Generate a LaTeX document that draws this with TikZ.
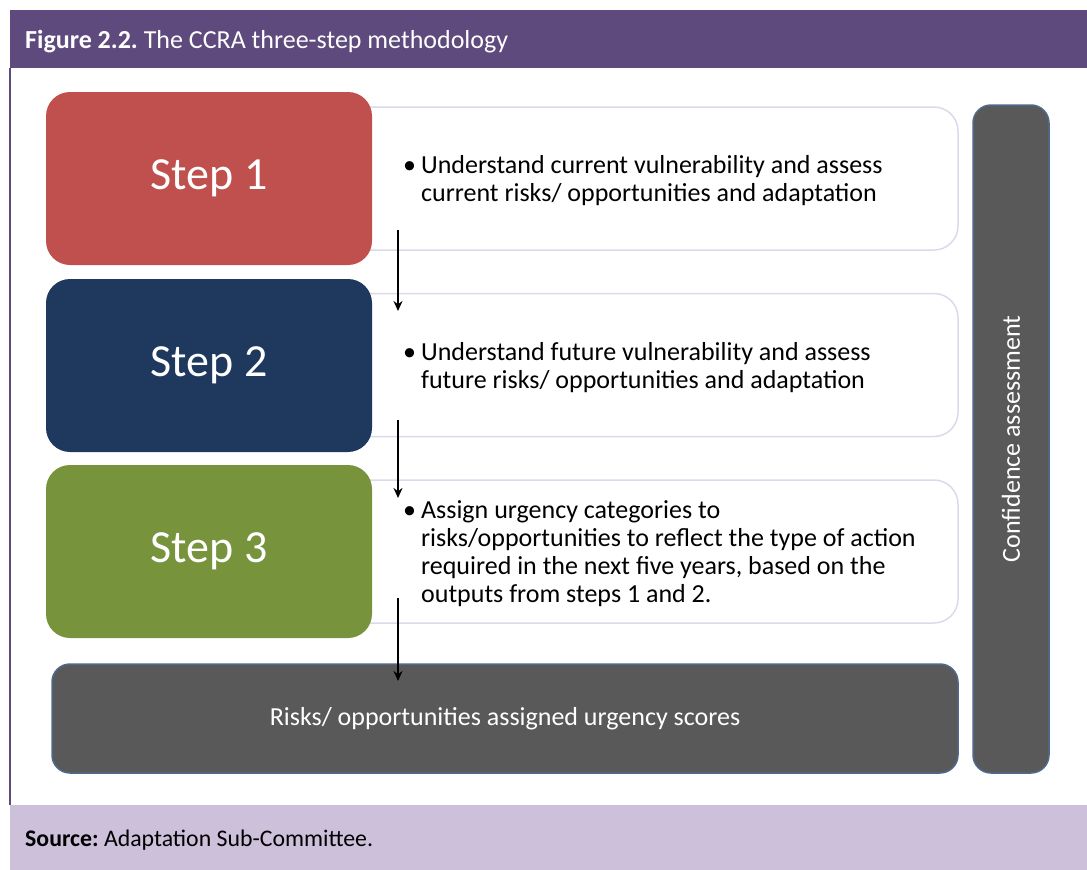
\documentclass[tikz,border=0pt]{standalone}
\usepackage{fontspec}
\setmainfont{Carlito}
\frenchspacing
\usetikzlibrary{positioning,calc,arrows.meta}
\definecolor{bandpurple}{RGB}{94,74,125}
\definecolor{footlilac}{RGB}{205,192,219}
\definecolor{stepred}{RGB}{192,80,77}
\definecolor{stepblue}{RGB}{31,56,94}
\definecolor{stepgreen}{RGB}{119,147,60}
\definecolor{boxgray}{RGB}{89,89,89}
\definecolor{boxedge}{RGB}{79,105,140}
\definecolor{descedge}{RGB}{218,218,235}
\tikzset{
  stepbox/.style={rounded corners=24pt, minimum width=326pt, minimum height=173pt, inner sep=0pt,
    text=white, font=\fontsize{46}{50}\selectfont},
  descbox/.style={draw=descedge, line width=1.5pt, fill=white, rounded corners=24pt,
    minimum width=658pt, minimum height=143pt, inner sep=0pt},
  desctext/.style={anchor=west, inner sep=0pt, font=\fontsize{26}{28}\selectfont},
  graybox/.style={fill=boxgray, draw=boxedge, line width=1.5pt, rounded corners=18pt, inner sep=0pt,
    text=white, font=\fontsize{26}{30}\selectfont},
  flow/.style={-{Stealth[length=10pt,width=9pt]}, line width=1.7pt}
}
\newcommand{\bulletlines}[1]{\begin{tabular}{@{}l@{\hspace{5pt}}l@{}}\textbullet & #1\end{tabular}}
\begin{document}
\begin{tikzpicture}[x=1pt,y=-1pt]
\useasboundingbox (0,0) rectangle (1087,870);
% frame, title band and footer
\fill[bandpurple] (10,10) rectangle (1087,68);
\draw[bandpurple, line width=2pt] (10,68) -- (10,805);
\fill[footlilac] (10,805) rectangle (1087,870);
\node[anchor=base west, inner sep=0pt, text=white, font=\fontsize{26}{28}\selectfont] (title) at (25,48)
  {\textbf{Figure 2.2.} The CCRA three-step methodology};
\node[anchor=base west, inner sep=0pt, font=\fontsize{23.8}{26}\selectfont] (source) at (25,846)
  {\textbf{Source:} Adaptation Sub-Committee.};

% description boxes sit behind the steps
\node[descbox] (desc1) at (629,178.5) {};
\node[descbox] (desc2) at (629,365) {};
\node[descbox] (desc3) at (629,551.5) {};

\node[stepbox, fill=stepred] (step1) at (209,178.5) {Step 1};
\node[stepbox, fill=stepblue] (step2) at (209,365.5) {Step 2};
\node[stepbox, fill=stepgreen] (step3) at (209,551.5) {Step 3};

\node[desctext] (item1) at (403,182) {\bulletlines{Understand current vulnerability and assess\\ & current risks/ opportunities and adaptation}};
\node[desctext] (item2) at (403,369) {\bulletlines{Understand future vulnerability and assess\\ & future risks/ opportunities and adaptation}};
\node[desctext] (item3) at (403,555) {\bulletlines{Assign urgency categories to\\ & risks/opportunities to reflect the type of action\\ & required in the next five years, based on the\\ & outputs from steps 1 and 2.}};

\node[graybox, minimum width=906pt, minimum height=109pt] (result) at (505,718.5)
  {Risks/ opportunities assigned urgency scores};
\node[graybox, minimum width=76pt, minimum height=668pt] (conf) at (1011,439) {};
\node[rotate=90, text=white, font=\fontsize{26}{30}\selectfont] (conftext) at (conf.center) {Confidence assessment};

% arrows between the steps
\coordinate (a1) at (398,230); \coordinate (b1) at (398,311);
\coordinate (a2) at (398,420); \coordinate (b2) at (398,498);
\coordinate (a3) at (398,598); \coordinate (b3) at (398,681);
\draw[flow] (a1) -- (b1);
\draw[flow] (a2) -- (b2);
\draw[flow] (a3) -- (b3);
\end{tikzpicture}
\end{document}
